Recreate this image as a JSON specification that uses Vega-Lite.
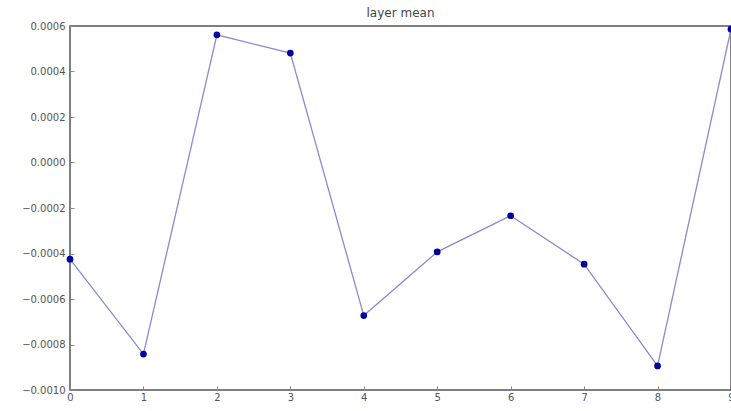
{
  "$schema": "https://vega.github.io/schema/vega-lite/v6.json",
  "width": 661,
  "height": 364,
  "autosize": {"type": "none"},
  "padding": {"left": 70, "top": 26, "right": 0, "bottom": 21},
  "title": {"text": "layer mean", "fontSize": 12, "font": "DejaVu Sans", "fontWeight": "normal", "color": "#444444", "offset": 7, "frame": "group", "dy": 6},
  "config": {"view": {"stroke": "#555555", "strokeWidth": 1.5}},
  "data": {"values": [
    {"layer": 0, "mean": -0.000425},
    {"layer": 1, "mean": -0.000842},
    {"layer": 2, "mean": 0.000561},
    {"layer": 3, "mean": 0.000481},
    {"layer": 4, "mean": -0.000673},
    {"layer": 5, "mean": -0.000393},
    {"layer": 6, "mean": -0.000234},
    {"layer": 7, "mean": -0.000447},
    {"layer": 8, "mean": -0.000894},
    {"layer": 9, "mean": 0.000586}
  ]},
  "encoding": {
    "x": {"field": "layer", "type": "quantitative", "title": null,
      "scale": {"domain": [0, 9], "nice": false, "zero": false},
      "axis": {"values": [0,1,2,3,4,5,6,7,8,9], "format": "d", "grid": false, "domain": false,
        "tickSize": -4, "tickColor": "#888888", "labelPadding": 6, "labelColor": "#555555",
        "labelFont": "DejaVu Sans", "labelFontSize": 10, "labelFlush": false}},
    "y": {"field": "mean", "type": "quantitative", "title": null,
      "scale": {"domain": [-0.001, 0.0006], "nice": false, "zero": false},
      "axis": {"values": [-0.001,-0.0008,-0.0006,-0.0004,-0.0002,0,0.0002,0.0004,0.0006], "format": ".4f", "grid": false, "domain": false,
        "tickSize": -4, "tickColor": "#888888", "labelPadding": 9, "labelColor": "#555555",
        "labelFont": "DejaVu Sans", "labelFontSize": 10, "labelFlush": false}}
  },
  "layer": [
    {"mark": {"type": "line", "color": "#8a8ad0", "strokeWidth": 1.3}},
    {"mark": {"type": "point", "filled": true, "color": "#0000a0", "size": 45, "opacity": 1}}
  ]
}
